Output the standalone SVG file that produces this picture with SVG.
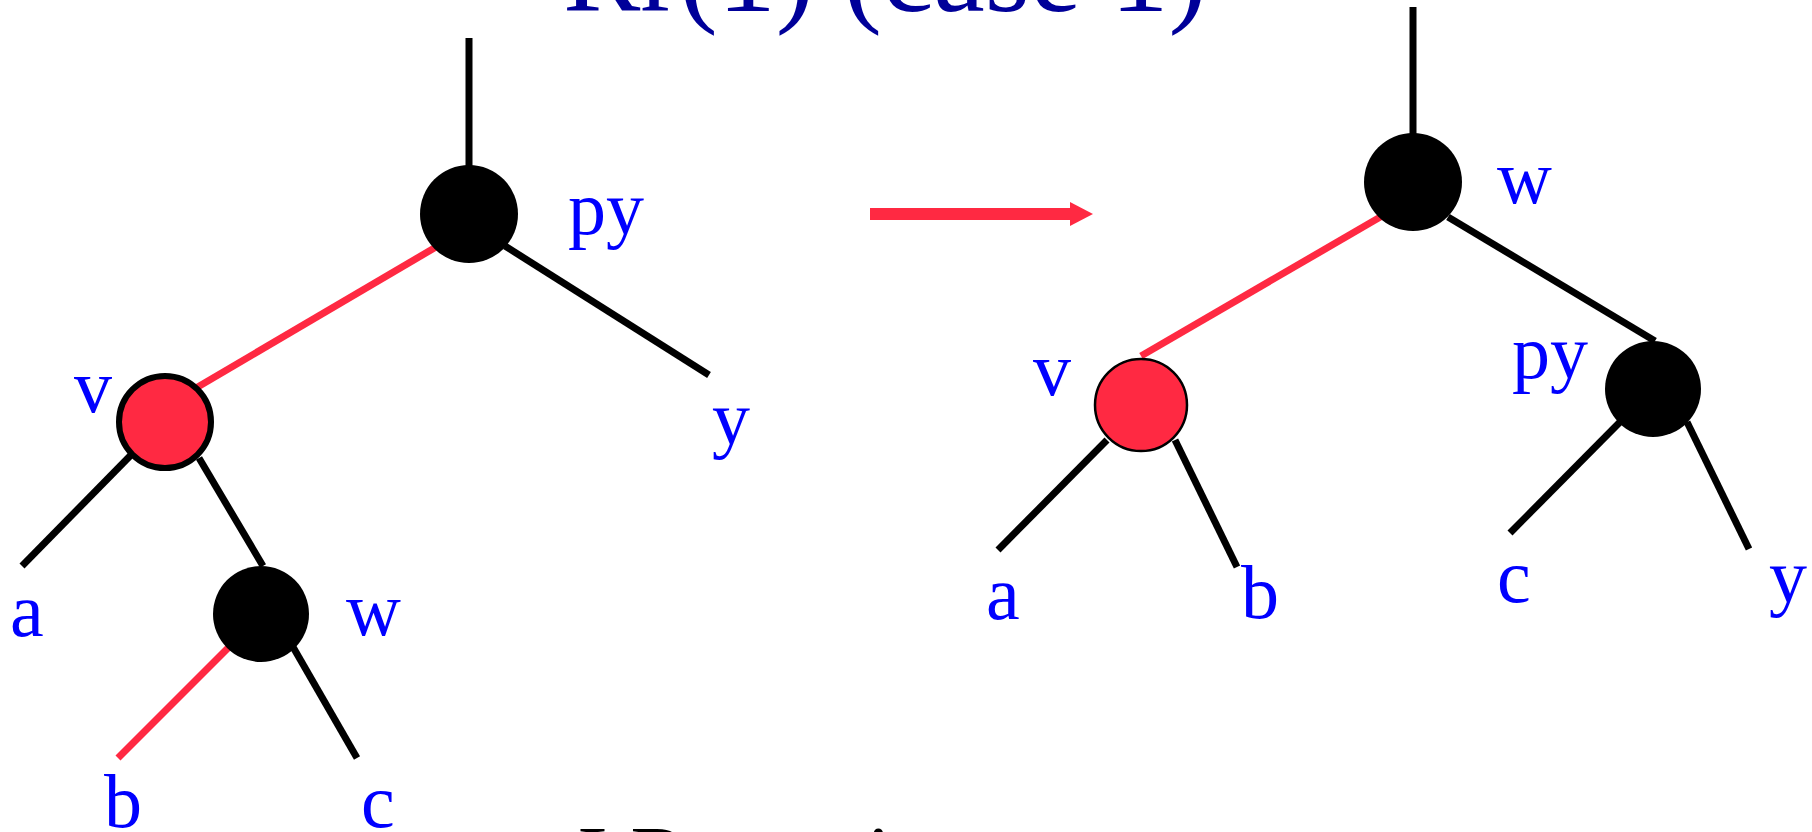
<svg xmlns="http://www.w3.org/2000/svg" width="1812" height="832" viewBox="0 0 1812 832">
<style>
.lbl{font-family:"Liberation Serif","Times New Roman",serif;font-size:76px;fill:#0000FF}
.title{font-family:"Liberation Serif","Times New Roman",serif;font-size:116px;fill:#000099}
.body{font-family:"Liberation Serif","Times New Roman",serif;font-size:86px;fill:#000000}
.e{stroke:#000;stroke-width:7;fill:none}
.er{stroke:#FF2942;stroke-width:7;fill:none}
.blk{fill:#000}
.red{fill:#FF2942;stroke:#000}
</style>
<rect width="1812" height="832" fill="#fff"/>
<text class="title" x="563" y="11">Rr(1) (case 1)</text>
<text class="body" x="578" y="886">LR rotation.</text>
<g id="connectors">
  <line class="e" x1="469" y1="38" x2="469" y2="170"/>
  <line class="er" x1="436" y1="247" x2="196" y2="388"/>
  <line class="e" x1="505" y1="246" x2="709" y2="375"/>
  <line class="e" x1="131" y1="455" x2="22" y2="566"/>
  <line class="e" x1="199" y1="458" x2="263" y2="566"/>
  <line class="er" x1="229" y1="647" x2="118" y2="758"/>
  <line class="e" x1="293" y1="647" x2="357" y2="758"/>
  <rect x="870" y="208" width="201" height="12" fill="#FF2942"/>
  <polygon points="1070,202 1093,214 1070,226" fill="#FF2942"/>
  <line class="e" x1="1413" y1="7" x2="1413" y2="140"/>
  <line class="er" x1="1382" y1="216" x2="1141" y2="356"/>
  <line class="e" x1="1448" y1="217" x2="1655" y2="341"/>
  <line class="e" x1="1107" y1="440" x2="998" y2="550"/>
  <line class="e" x1="1175" y1="440" x2="1237" y2="567"/>
  <line class="e" x1="1620" y1="422" x2="1510" y2="533"/>
  <line class="e" x1="1687" y1="422" x2="1749" y2="549"/>
</g>
<g id="L-py"><circle class="blk" cx="469" cy="214" r="49"/><text class="lbl" x="568" y="234">py</text></g>
<g id="L-v"><circle class="red" cx="165" cy="422" r="46" stroke-width="6"/><text class="lbl" x="74" y="412">v</text></g>
<g id="L-w"><circle class="blk" cx="261" cy="614" r="48"/><text class="lbl" x="346" y="635">w</text></g>
<g id="L-y"><text class="lbl" x="712" y="444">y</text></g>
<g id="L-a"><text class="lbl" x="10" y="636">a</text></g>
<g id="L-b"><text class="lbl" x="104" y="827">b</text></g>
<g id="L-c"><text class="lbl" x="361" y="827">c</text></g>
<g id="R-w"><circle class="blk" cx="1413" cy="182" r="49"/><text class="lbl" x="1497" y="203">w</text></g>
<g id="R-v"><circle class="red" cx="1141" cy="405" r="46" stroke-width="2.5"/><text class="lbl" x="1033" y="395">v</text></g>
<g id="R-py"><circle class="blk" cx="1653" cy="389" r="48"/><text class="lbl" x="1512" y="378">py</text></g>
<g id="R-a"><text class="lbl" x="986" y="619">a</text></g>
<g id="R-b"><text class="lbl" x="1241" y="618">b</text></g>
<g id="R-c"><text class="lbl" x="1497" y="602">c</text></g>
<g id="R-y"><text class="lbl" x="1769" y="602">y</text></g>
</svg>
